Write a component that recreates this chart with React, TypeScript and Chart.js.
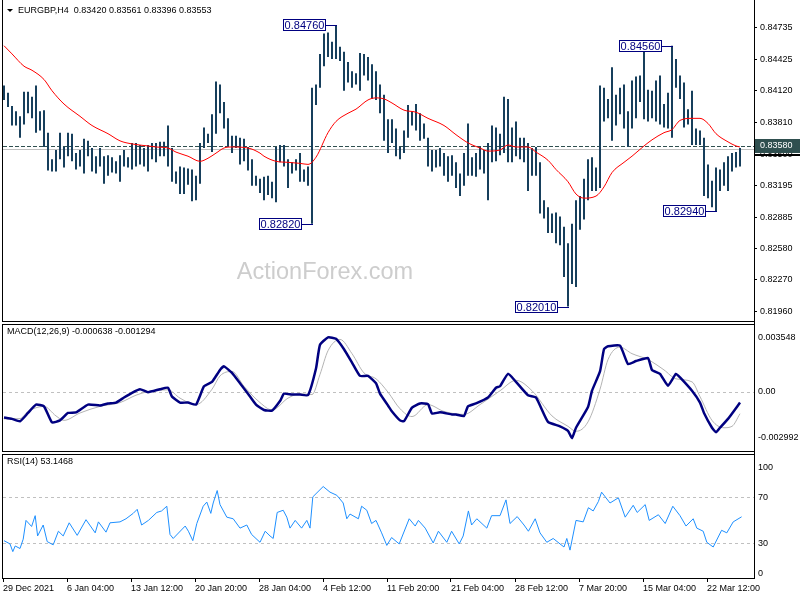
import React, { useEffect, useRef } from 'react';
import { Chart, registerables } from 'chart.js';

Chart.register(...registerables);

const FONT = "'Liberation Sans', Arial, sans-serif";
Chart.defaults.font.family = FONT;
Chart.defaults.font.size = 9;
Chart.defaults.color = '#000';

// ---------- data ----------
const titleSymbol = 'EURGBP,H4';
const titleOHLC = [0.8342, 0.83561, 0.83396, 0.83553];
const watermark = 'ActionForex.com';

const barHigh = [
  0.8417, 0.8410, 0.8397, 0.8392, 0.8387, 0.8411, 0.8411, 0.8406, 0.8417, 0.8392,
  0.8393, 0.8371, 0.8345, 0.8354, 0.8371, 0.8357, 0.8371, 0.8370, 0.8351, 0.8354,
  0.8365, 0.8363, 0.8356, 0.8348, 0.8356, 0.8348, 0.8349, 0.8347, 0.8343, 0.8349,
  0.8354, 0.8347, 0.8361, 0.8361, 0.8359, 0.8356, 0.8359, 0.8361, 0.8361, 0.8362,
  0.8362, 0.8378, 0.8356, 0.8333, 0.8338, 0.8337, 0.8336, 0.8335, 0.8329, 0.8361,
  0.8376, 0.8370, 0.8389, 0.8421, 0.8418, 0.8401, 0.8385, 0.8368, 0.8368, 0.8366,
  0.8365, 0.8357, 0.8345, 0.8329, 0.8326, 0.8328, 0.8329, 0.8323, 0.8357, 0.8359,
  0.8359, 0.8345, 0.8342, 0.8345, 0.8351, 0.8335, 0.8338, 0.8415, 0.8418, 0.8448,
  0.8468, 0.8469, 0.8460, 0.8476, 0.8455, 0.8450, 0.8440, 0.8431, 0.8429, 0.8449,
  0.8448, 0.8445, 0.8438, 0.8431, 0.8418, 0.8408, 0.8384, 0.8384, 0.8375, 0.8357,
  0.8373, 0.8398, 0.8392, 0.8399, 0.8390, 0.8380, 0.8366, 0.8354, 0.8354, 0.8356,
  0.8351, 0.8348, 0.8349, 0.8342, 0.8331, 0.8351, 0.8380, 0.8347, 0.8351, 0.8357,
  0.8354, 0.8361, 0.8378, 0.8376, 0.8370, 0.8406, 0.8404, 0.8376, 0.8382, 0.8366,
  0.8366, 0.8361, 0.8356, 0.8357, 0.8342, 0.8305, 0.8298, 0.8292, 0.8293, 0.8289,
  0.8279, 0.8263, 0.8282, 0.8305, 0.8309, 0.8326, 0.8345, 0.8347, 0.8337, 0.8417,
  0.8415, 0.8404, 0.8435, 0.8408, 0.8415, 0.8418, 0.8392, 0.8422, 0.8426, 0.8427,
  0.8454, 0.8413, 0.8412, 0.8422, 0.8427, 0.8399, 0.8410, 0.8456, 0.8443, 0.8427,
  0.8420, 0.8394, 0.8412, 0.8375, 0.8373, 0.8366, 0.8340, 0.8324, 0.8337, 0.8335,
  0.8342, 0.8348, 0.8351, 0.8352, 0.8356,
];

const barLow = [
  0.8403, 0.8396, 0.8378, 0.8378, 0.8366, 0.8379, 0.8390, 0.8385, 0.8371, 0.8373,
  0.8357, 0.8334, 0.8333, 0.8333, 0.8345, 0.8337, 0.8348, 0.8343, 0.8335, 0.8338,
  0.8331, 0.8348, 0.8333, 0.8331, 0.8338, 0.8321, 0.8329, 0.8332, 0.8331, 0.8323,
  0.8338, 0.8337, 0.8335, 0.8338, 0.8340, 0.8338, 0.8333, 0.8345, 0.8342, 0.8348,
  0.8348, 0.8338, 0.8323, 0.8321, 0.8311, 0.8311, 0.8320, 0.8304, 0.8305, 0.8321,
  0.8356, 0.8361, 0.8352, 0.8370, 0.8390, 0.8375, 0.8357, 0.8351, 0.8356, 0.8340,
  0.8343, 0.8334, 0.8319, 0.8319, 0.8312, 0.8305, 0.8310, 0.8307, 0.8303, 0.8342,
  0.8338, 0.8317, 0.8331, 0.8334, 0.8323, 0.8323, 0.8319, 0.8282, 0.8398, 0.8415,
  0.8436, 0.8445, 0.8443, 0.8443, 0.8441, 0.8412, 0.8420, 0.8415, 0.8418, 0.8412,
  0.8427, 0.8422, 0.8404, 0.8403, 0.8390, 0.8363, 0.8351, 0.8361, 0.8348, 0.8345,
  0.8351, 0.8366, 0.8378, 0.8373, 0.8363, 0.8365, 0.8338, 0.8333, 0.8337, 0.8338,
  0.8329, 0.8323, 0.8329, 0.8317, 0.8309, 0.8319, 0.8329, 0.8329, 0.8328, 0.8335,
  0.8331, 0.8305, 0.8342, 0.8343, 0.8349, 0.8351, 0.8342, 0.8342, 0.8348, 0.8345,
  0.8342, 0.8314, 0.8329, 0.8329, 0.8292, 0.8287, 0.8273, 0.8273, 0.8263, 0.8261,
  0.8230, 0.8201, 0.8223, 0.8220, 0.8276, 0.8286, 0.8305, 0.8314, 0.8314, 0.8317,
  0.8382, 0.8385, 0.8363, 0.8378, 0.8389, 0.8375, 0.8357, 0.8375, 0.8385, 0.8401,
  0.8384, 0.8382, 0.8385, 0.8382, 0.8379, 0.8376, 0.8375, 0.8366, 0.8415, 0.8404,
  0.8376, 0.8379, 0.8359, 0.8359, 0.8359, 0.8309, 0.8307, 0.8298, 0.8294, 0.8314,
  0.8319, 0.8314, 0.8333, 0.8337, 0.8338,
];

const maIdx = [0, 2, 5, 7, 10, 12, 15, 19, 22, 26, 29, 32, 36, 38, 41, 43, 46, 49, 51, 53, 55, 57, 61, 64, 65, 68, 71, 74, 76, 78, 81, 83, 86, 88, 91, 93, 95, 97, 100, 103, 106, 110, 113, 116, 119, 121, 124, 126, 128, 131, 133, 136, 138, 141, 143, 145, 148, 150, 152, 155, 157, 160, 162, 165, 167, 169, 172, 174, 176, 178, 181, 183, 184];
const maVal = [0.8456, 0.8448, 0.8436, 0.8432, 0.8423, 0.8412, 0.8399, 0.8387, 0.8378, 0.8370, 0.8363, 0.8360, 0.8358, 0.8357, 0.8356, 0.8352, 0.8348, 0.8343, 0.8346, 0.8351, 0.8356, 0.8357, 0.8356, 0.8351, 0.8348, 0.8343, 0.8342, 0.8341, 0.8340, 0.8347, 0.8371, 0.8382, 0.8390, 0.8394, 0.8403, 0.8405, 0.8404, 0.8400, 0.8393, 0.8391, 0.8385, 0.8378, 0.8369, 0.8361, 0.8356, 0.8353, 0.8354, 0.8359, 0.8357, 0.8357, 0.8352, 0.8344, 0.8335, 0.8323, 0.8311, 0.8307, 0.8309, 0.8318, 0.8332, 0.8342, 0.8348, 0.8358, 0.8364, 0.8371, 0.8374, 0.8383, 0.8385, 0.8385, 0.8380, 0.8370, 0.8362, 0.8358, 0.8357];

const extIdx = [83, 77, 167, 141, 178];
const extPrice = [0.8476, 0.8282, 0.8456, 0.8201, 0.8294];
const levelLine = 0.8358;
const priceTicks = [0.84735, 0.84425, 0.8412, 0.8381, 0.835, 0.83195, 0.82885, 0.8258, 0.8227, 0.8196];

const macdParams = [12, 26, 9];
const macdIdx = [0, 2, 4, 6, 8, 10, 12, 14, 16, 18, 21, 24, 26, 28, 30, 32, 34, 36, 39, 41, 42, 44, 46, 48, 50, 52, 54, 55, 57, 59, 61, 63, 65, 67, 69, 70, 72, 74, 76, 78, 79, 81, 83, 85, 87, 89, 91, 93, 94, 96, 97, 99, 100, 102, 104, 106, 107, 109, 112, 113, 115, 116, 118, 121, 123, 124, 126, 128, 131, 133, 136, 139, 141, 142, 143, 146, 147, 149, 150, 151, 154, 156, 158, 161, 162, 164, 166, 168, 169, 172, 174, 175, 177, 178, 179, 181, 184];
const macdVal = [-0.001512, -0.001596, -0.001737, -0.00125, -0.000759, -0.000863, -0.001805, -0.001685, -0.00125, -0.001214, -0.000759, -0.000811, -0.000691, -0.000638, -0.00034, -0.000063, 0.000146, -0.000026, 0.000146, 0.000235, -0.000288, -0.000638, -0.000638, -0.000759, 0.000319, 0.000581, 0.001282, 0.001491, 0.001104, 0.000497, -0.000115, -0.000759, -0.001073, -0.001109, -0.000549, -0.000115, -0.000167, -0.000167, -0.000204, 0.001366, 0.002762, 0.003197, 0.003113, 0.002501, 0.001716, 0.000931, 0.000931, 0.000497, -0.000115, -0.000811, -0.001161, -0.001685, -0.001737, -0.000937, -0.000691, -0.000727, -0.001282, -0.001214, -0.001334, -0.001334, -0.001423, -0.000863, -0.000691, -0.00034, 0.000235, 0.000319, 0.001052, 0.000581, -0.000204, -0.00034, -0.001774, -0.002035, -0.002297, -0.002731, -0.002119, -0.0009, 0.000058, 0.001193, 0.002501, 0.002674, 0.00271, 0.001627, 0.001805, 0.001978, 0.001282, 0.001052, 0.000356, 0.001052, 0.000842, 0.000058, -0.000638, -0.00125, -0.002119, -0.002381, -0.002119, -0.001596, -0.000638];
const sigIdx = [0, 4, 6, 10, 13, 15, 19, 24, 29, 33, 36, 41, 44, 48, 52, 54, 57, 60, 64, 67, 71, 74, 77, 79, 81, 84, 87, 90, 93, 96, 99, 102, 106, 110, 115, 119, 124, 128, 132, 137, 141, 143, 146, 149, 151, 154, 157, 161, 165, 168, 172, 174, 177, 180, 182, 184];
const sigVal = [-0.001596, -0.00158, -0.001161, -0.000863, -0.001423, -0.001685, -0.00125, -0.000863, -0.000638, -0.000204, 0.000005, 0.00011, -0.000377, -0.000759, 0.000146, 0.000931, 0.001193, 0.000319, -0.000638, -0.001073, -0.000377, -0.000115, -0.000167, 0.00102, 0.002412, 0.003076, 0.002239, 0.001104, 0.000759, -0.000026, -0.001, -0.00146, -0.000759, -0.001161, -0.001334, -0.000759, 0.000058, 0.00067, 0.000058, -0.001423, -0.002035, -0.002328, -0.001774, 0.000146, 0.001889, 0.002621, 0.002239, 0.001889, 0.001282, 0.000759, 0.000581, -0.000288, -0.001685, -0.002119, -0.002035, -0.001294];
const macdRange = [-0.002992, 0.003548];
const macdTickVals = [0.003182, 0, -0.002678];
const macdTickLabels = ['0.003548', '0.00', '-0.002992'];

const rsiPeriod = 14;
const rsiIdx = [0, 1.5, 2.2, 2.8, 4, 4.8, 5.5, 6.9, 7.8, 8.4, 9.8, 10.8, 12.3, 13.6, 14.8, 16.3, 18.3, 20.5, 22.8, 23.6, 25.5, 26.5, 29, 30.5, 32.3, 33.3, 34.4, 36.1, 38.2, 39.4, 40.7, 41.5, 42.3, 45.3, 46.1, 47.2, 48.2, 49.8, 50.7, 51.7, 52.3, 53.3, 54, 55.7, 57.3, 59, 60.7, 61.9, 64, 65.3, 66.5, 67.3, 68.3, 69.8, 70.7, 71.5, 72.8, 74.4, 75.7, 76.5, 77.2, 79.8, 81.5, 83.2, 84.8, 85.7, 86.5, 88.6, 89.4, 90.7, 91.9, 93, 94.4, 95.7, 96.9, 98.8, 101.3, 102.8, 103.6, 105.3, 107.3, 108.6, 110.7, 111.9, 113.8, 114.8, 116.1, 116.9, 118.2, 120.7, 121.9, 124, 125.5, 126.5, 128.3, 130, 131.1, 132.8, 134, 135.7, 137.3, 139, 140, 140.7, 141.5, 143, 144.8, 146.1, 147.3, 148.6, 149.4, 151.5, 153.6, 155.3, 157.3, 158.3, 160.3, 161.3, 163.6, 165.3, 167.2, 169, 170.5, 172.3, 173.2, 174.8, 175.7, 177.3, 179.4, 180.7, 182.3, 184.4];
const rsiVal = [
  32.4, 29.6, 22.9, 27.8, 25.6, 33.7, 50.0, 44.7, 54.1, 36.5,
  46.0, 31.6, 28.8, 40.6, 36.5, 47.9, 37.0, 50.6, 39.2, 48.7,
  39.8, 47.9, 48.7, 51.4, 56.1, 59.6, 46.0, 50.0, 56.9, 58.2,
  62.3, 37.8, 34.3, 45.1, 40.6, 32.4, 47.3, 62.3, 65.9, 56.1,
  65.1, 75.9, 63.7, 52.8, 51.4, 43.3, 46.0, 37.8, 31.0, 40.6,
  36.5, 34.3, 56.9, 58.8, 52.8, 43.3, 50.0, 43.3, 50.0, 43.3,
  70.4, 79.4, 74.5, 71.8, 65.1, 51.4, 55.5, 51.4, 62.3, 58.8,
  47.3, 50.0, 39.2, 28.3, 35.1, 29.6, 51.4, 45.1, 50.0, 43.3,
  30.4, 40.6, 31.0, 40.6, 29.6, 36.5, 58.2, 46.0, 51.4, 43.3,
  54.1, 54.1, 67.8, 47.3, 53.3, 46.0, 40.6, 51.4, 39.2, 31.0,
  34.3, 29.6, 26.9, 34.3, 24.2, 50.0, 48.7, 61.0, 58.2, 66.4,
  74.5, 65.1, 69.6, 52.8, 63.1, 56.9, 63.7, 50.0, 54.9, 47.3,
  62.3, 54.1, 45.1, 51.4, 43.3, 40.6, 31.0, 26.9, 41.4, 39.2,
  48.7, 53.1,
];
const rsiLast = 53.1468;
const rsiLevels = [70, 30];
const rsiTickVals = [96.3, 70, 30, 4.1];
const rsiTickLabels = ['100', '70', '30', '0'];

const timeTickIdx = [-0.25, 15.75, 31.75, 47.75, 63.75, 79.75, 95.75, 111.75, 127.75, 143.75, 159.75, 175.75];
const timeLabels = ['29 Dec 2021', '6 Jan 04:00', '13 Jan 12:00', '20 Jan 20:00', '28 Jan 04:00', '4 Feb 12:00', '11 Feb 20:00', '21 Feb 04:00', '28 Feb 12:00', '7 Mar 20:00', '15 Mar 04:00', '22 Mar 12:00'];

// ---------- layout constants ----------
const AXIS_W = 46;
const X_MIN = -0.5;
const X_MAX = 187.5;

function pts(xs: number[], ys: number[]) {
  return xs.map((x, i) => ({ x, y: ys[i] }));
}

function hiddenX() {
  return { type: 'linear', min: X_MIN, max: X_MAX, display: false, offset: false };
}

function frame(ctx: CanvasRenderingContext2D, top: number | null, bottom: number, rightTop: number, rightBottom: number) {
  ctx.save();
  ctx.fillStyle = '#000';
  const t = top === null ? 0 : top;
  ctx.fillRect(2, t, 1, bottom - t + 1);
  if (top !== null) ctx.fillRect(2, top, 753, 1);
  ctx.fillRect(2, bottom, 753, 1);
  ctx.fillRect(754, rightTop, 1, rightBottom - rightTop + 1);
  ctx.restore();
}

function hLine(ctx: CanvasRenderingContext2D, a: any, y: number, color: string, dash: number[]) {
  ctx.save();
  ctx.strokeStyle = color;
  ctx.lineWidth = 1;
  ctx.setLineDash(dash);
  ctx.beginPath();
  const yy = Math.round(y) + 0.5;
  ctx.moveTo(a.left + 1, yy);
  ctx.lineTo(a.right, yy);
  ctx.stroke();
  ctx.restore();
}

const pricePlugin = {
  id: 'pricePanel',
  beforeDraw(chart: any) {
    const ctx = chart.ctx;
    ctx.save();
    ctx.fillStyle = '#fff';
    ctx.fillRect(0, 0, chart.width, chart.height);
    ctx.fillStyle = '#cdcdcd';
    ctx.font = `23.5px ${FONT}`;
    ctx.textAlign = 'center';
    ctx.textBaseline = 'middle';
    ctx.fillText(watermark, 325, 273);
    ctx.restore();
  },
  beforeDatasetsDraw(chart: any) {
    const { ctx, chartArea: a, scales } = chart;
    hLine(ctx, a, scales.y.getPixelForValue(titleOHLC[3]), '#c0c0c0', []);
    hLine(ctx, a, scales.y.getPixelForValue(levelLine), '#2f4f4f', [4, 2]);
  },
  afterDatasetsDraw(chart: any) {
    const { ctx, scales } = chart;
    ctx.save();
    ctx.font = `11px ${FONT}`;
    ctx.textAlign = 'center';
    ctx.textBaseline = 'middle';
    extIdx.forEach((k, j) => {
      const px = Math.round(scales.x.getPixelForValue(k));
      const py = Math.round(scales.y.getPixelForValue(extPrice[j]));
      const bw = 43;
      const bh = 12;
      const right = px - 10;
      const left = right - bw;
      ctx.fillStyle = '#fff';
      ctx.fillRect(left, py - 6, bw, bh);
      ctx.strokeStyle = '#000080';
      ctx.lineWidth = 1;
      ctx.strokeRect(left + 0.5, py - 6 + 0.5, bw - 1, bh - 1);
      ctx.beginPath();
      ctx.moveTo(right, py + 0.5);
      ctx.lineTo(px + 1, py + 0.5);
      ctx.stroke();
      ctx.fillStyle = '#000080';
      ctx.fillText(extPrice[j].toFixed(5), left + bw / 2, py + 0.5);
    });
    ctx.restore();
  },
  afterDraw(chart: any) {
    const { ctx, scales } = chart;
    frame(ctx, null, 321, 0, 321);
    ctx.save();
    const yl = Math.round(scales.y.getPixelForValue(levelLine));
    ctx.fillStyle = '#000';
    ctx.fillRect(755, yl + 8, 45, 2);
    ctx.fillStyle = '#2f4f4f';
    ctx.fillRect(755, yl - 7, 45, 14);
    ctx.fillStyle = '#fff';
    ctx.font = `9px ${FONT}`;
    ctx.textAlign = 'left';
    ctx.textBaseline = 'middle';
    ctx.fillText(levelLine.toFixed(5), 760, yl);
    // title
    ctx.fillStyle = '#000';
    ctx.beginPath();
    ctx.moveTo(7, 9);
    ctx.lineTo(13, 9);
    ctx.lineTo(10, 12);
    ctx.closePath();
    ctx.fill();
    ctx.fillText(`${titleSymbol}  ${titleOHLC.map((v) => v.toFixed(5)).join(' ')}`, 18, 11);
    ctx.restore();
  },
};

const macdPlugin = {
  id: 'macdPanel',
  beforeDraw(chart: any) {
    const ctx = chart.ctx;
    ctx.save();
    ctx.fillStyle = '#fff';
    ctx.fillRect(0, 0, chart.width, chart.height);
    ctx.restore();
  },
  beforeDatasetsDraw(chart: any) {
    const { ctx, chartArea: a, scales } = chart;
    hLine(ctx, a, scales.y.getPixelForValue(0), '#c0c0c0', [3, 3]);
  },
  afterDraw(chart: any) {
    const ctx = chart.ctx;
    frame(ctx, 2, 129, 0, 129);
    ctx.save();
    ctx.fillStyle = '#000';
    ctx.font = `9px ${FONT}`;
    ctx.textAlign = 'left';
    ctx.textBaseline = 'middle';
    const last = macdVal[macdVal.length - 1];
    const lastSig = sigVal[sigVal.length - 1];
    ctx.fillText(`MACD(${macdParams.join(',')}) ${last.toFixed(6)} ${lastSig.toFixed(6)}`, 7, 10);
    ctx.restore();
  },
};

const rsiPlugin = {
  id: 'rsiPanel',
  beforeDraw(chart: any) {
    const ctx = chart.ctx;
    ctx.save();
    ctx.fillStyle = '#fff';
    ctx.fillRect(0, 0, chart.width, chart.height);
    ctx.restore();
  },
  beforeDatasetsDraw(chart: any) {
    const { ctx, chartArea: a, scales } = chart;
    rsiLevels.forEach((lv) => hLine(ctx, a, scales.y.getPixelForValue(lv), '#c0c0c0', [3, 3]));
  },
  afterDraw(chart: any) {
    const ctx = chart.ctx;
    frame(ctx, 2, 126, 0, 126);
    ctx.save();
    ctx.fillStyle = '#000';
    ctx.font = `9px ${FONT}`;
    ctx.textAlign = 'left';
    ctx.textBaseline = 'middle';
    ctx.fillText(`RSI(${rsiPeriod}) ${rsiLast.toFixed(4)}`, 7, 10);
    ctx.restore();
  },
};

const common = {
  responsive: false,
  maintainAspectRatio: false,
  animation: false,
  events: [],
  plugins: { legend: { display: false }, tooltip: { enabled: false } },
};

export default function App() {
  const aRef = useRef<HTMLCanvasElement>(null);
  const bRef = useRef<HTMLCanvasElement>(null);
  const cRef = useRef<HTMLCanvasElement>(null);

  useEffect(() => {
    const charts: Chart[] = [];

    charts.push(
      new Chart(aRef.current as HTMLCanvasElement, {
        type: 'bar',
        data: {
          datasets: [
            {
              type: 'line',
              data: pts(maIdx, maVal),
              borderColor: '#ff0000',
              borderWidth: 1,
              pointRadius: 0,
              cubicInterpolationMode: 'monotone',
              order: 0,
            } as any,
            {
              type: 'bar',
              data: barLow.map((l, i) => ({ x: i, y: [l, barHigh[i]] })),
              backgroundColor: '#173f5c',
              borderWidth: 0,
              barThickness: 2,
              inflateAmount: 0,
              order: 1,
            } as any,
          ],
        },
        options: {
          ...common,
          layout: { padding: { left: 2, right: 0, top: 2, bottom: 1 } },
          scales: {
            x: hiddenX(),
            y: {
              type: 'linear',
              position: 'right',
              min: 0.81941,
              max: 0.84925,
              afterFit: (s: any) => { s.width = AXIS_W; },
              afterBuildTicks: (s: any) => { s.ticks = priceTicks.map((v) => ({ value: v })); },
              ticks: {
                autoSkip: false,
                padding: 3,
                color: '#000',
                font: { family: FONT, size: 9 },
                callback: (v: any) => Number(v).toFixed(5),
              },
              grid: { drawOnChartArea: false, drawTicks: true, tickLength: 3, color: '#000' },
              border: { display: false },
            },
          },
        } as any,
        plugins: [pricePlugin],
      })
    );

    charts.push(
      new Chart(bRef.current as HTMLCanvasElement, {
        type: 'line',
        data: {
          datasets: [
            {
              data: pts(macdIdx, macdVal),
              borderColor: '#000080',
              borderWidth: 2.5,
              pointRadius: 0,
              tension: 0.15,
              order: 0,
            },
            {
              data: pts(sigIdx, sigVal),
              borderColor: '#b4b4b4',
              borderWidth: 1,
              pointRadius: 0,
              cubicInterpolationMode: 'monotone',
              order: 1,
            } as any,
          ],
        },
        options: {
          ...common,
          layout: { padding: { left: 2, right: 0, top: 3, bottom: 2 } },
          scales: {
            x: hiddenX(),
            y: {
              type: 'linear',
              position: 'right',
              min: macdRange[0],
              max: macdRange[1],
              afterFit: (s: any) => { s.width = AXIS_W; },
              afterBuildTicks: (s: any) => { s.ticks = macdTickVals.map((v) => ({ value: v })); },
              ticks: {
                autoSkip: false,
                padding: 4,
                color: '#000',
                font: { family: FONT, size: 9 },
                callback: (_v: any, i: number) => macdTickLabels[i],
              },
              grid: { display: false, drawTicks: false, tickLength: 0 },
              border: { display: false },
            },
          },
        } as any,
        plugins: [macdPlugin],
      })
    );

    charts.push(
      new Chart(cRef.current as HTMLCanvasElement, {
        type: 'line',
        data: {
          datasets: [
            {
              data: pts(rsiIdx, rsiVal),
              borderColor: '#1e90ff',
              borderWidth: 1,
              pointRadius: 0,
              tension: 0,
            },
          ],
        },
        options: {
          ...common,
          layout: { padding: { left: 2, right: 0, top: 2, bottom: 0 } },
          scales: {
            x: {
              type: 'linear',
              position: 'bottom',
              min: X_MIN,
              max: X_MAX,
              offset: false,
              afterFit: (s: any) => { s.height = 22; },
              afterBuildTicks: (s: any) => { s.ticks = timeTickIdx.map((v) => ({ value: v })); },
              ticks: {
                autoSkip: false,
                maxRotation: 0,
                minRotation: 0,
                align: 'start',
                padding: 1,
                color: '#000',
                font: { family: FONT, size: 9 },
                callback: (_v: any, i: number) => timeLabels[i],
              },
              grid: { drawOnChartArea: false, drawTicks: true, tickLength: 4, color: '#000' },
              border: { display: false },
            },
            y: {
              type: 'linear',
              position: 'right',
              min: 0,
              max: 101.2,
              afterFit: (s: any) => { s.width = AXIS_W; },
              afterBuildTicks: (s: any) => { s.ticks = rsiTickVals.map((v) => ({ value: v })); },
              ticks: {
                autoSkip: false,
                padding: 4,
                color: '#000',
                font: { family: FONT, size: 9 },
                callback: (_v: any, i: number) => rsiTickLabels[i],
              },
              grid: { display: false, drawTicks: false, tickLength: 0 },
              border: { display: false },
            },
          },
        } as any,
        plugins: [rsiPlugin],
      })
    );

    return () => charts.forEach((c) => c.destroy());
  }, []);

  return (
    <div style={{ position: 'absolute', left: 0, top: 0, width: 800, height: 600, background: '#fff' }}>
      <canvas ref={aRef} width={800} height={322} style={{ position: 'absolute', left: 0, top: 0, width: 800, height: 322 }} />
      <canvas ref={bRef} width={800} height={130} style={{ position: 'absolute', left: 0, top: 322, width: 800, height: 130 }} />
      <canvas ref={cRef} width={800} height={148} style={{ position: 'absolute', left: 0, top: 452, width: 800, height: 148 }} />
    </div>
  );
}
